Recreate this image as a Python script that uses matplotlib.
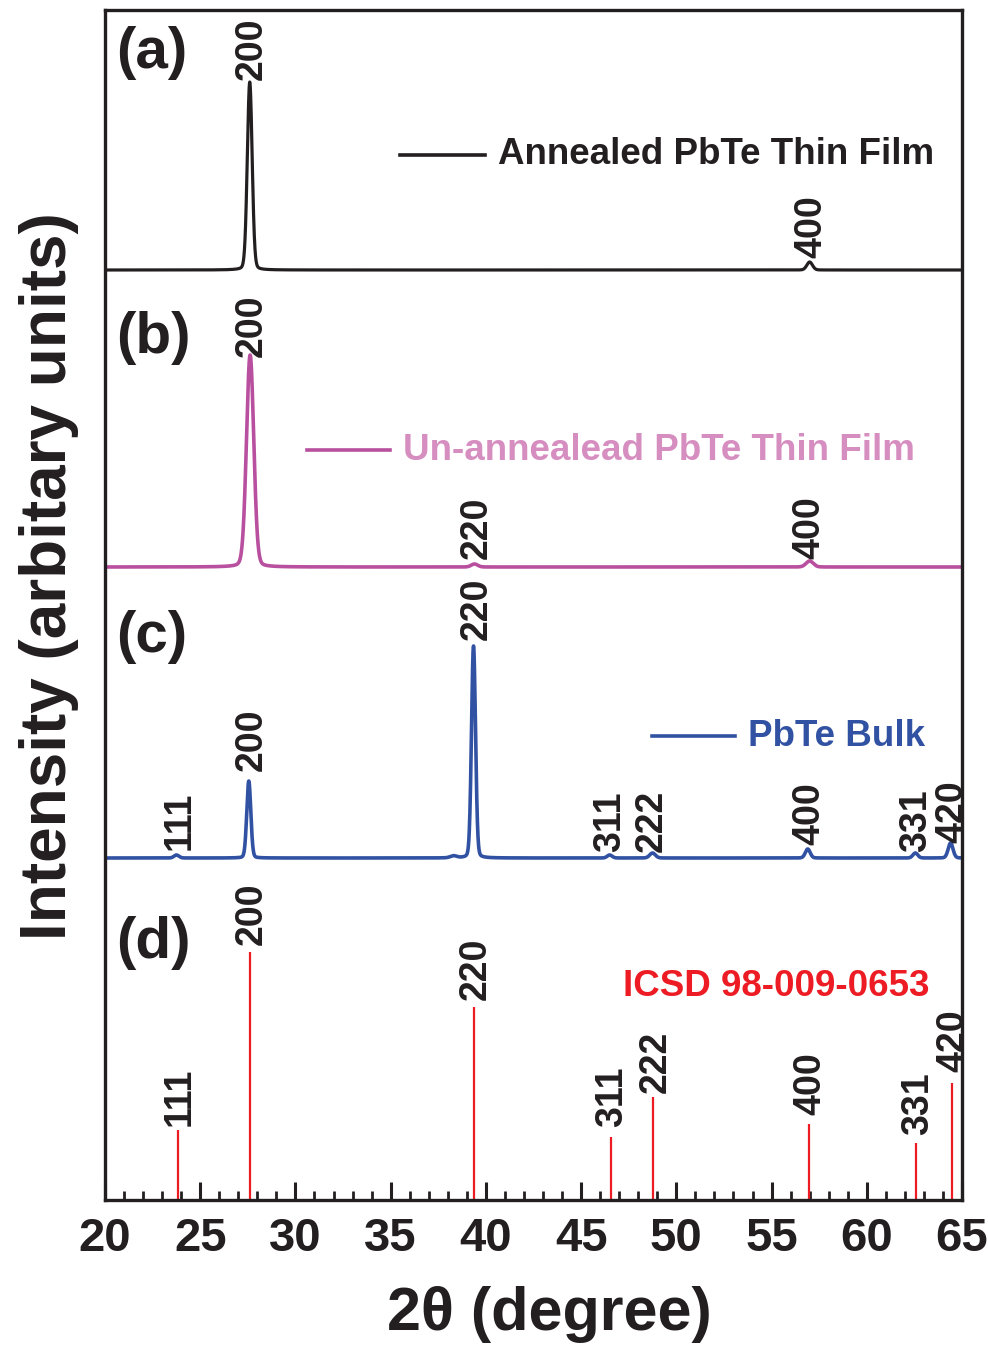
import numpy as np
import matplotlib
matplotlib.use("Agg")
import matplotlib.pyplot as plt
from matplotlib.ticker import MultipleLocator

plt.rcParams['font.family'] = ['Liberation Sans', 'DejaVu Sans']
plt.rcParams['font.weight'] = 'bold'

# ---- data ----
hkl = ["111", "200", "220", "311", "222", "400", "331", "420"]
ref_pos = [23.83, 27.60, 39.38, 46.55, 48.80, 56.95, 62.60, 64.45]
ref_int = [70, 248, 193, 63, 103, 76, 57, 117]

# annealed film (a)
a_pos = [27.60, 57.00]
a_int = [188, 8]
a_fwhm = [0.30, 0.35]
a_hkl = ["200", "400"]
a_lab_x = [27.7, 57.1]
a_lab_y = [190, 12]

# un-annealed film (b)
b_pos = [27.62, 39.40, 57.00]
b_int = [212, 3, 6]
b_fwhm = [0.45, 0.4, 0.45]
b_hkl = ["200", "220", "400"]
b_lab_x = [27.7, 39.5, 57.0]
b_lab_y = [210, 8, 8]

# bulk (c)
c_pos = [23.75, 27.55, 38.30, 39.35, 46.50, 48.75, 56.90, 62.55, 64.40]
c_int = [3, 77, 2, 212, 3, 5, 9, 5, 15]
c_fwhm = [0.3, 0.25, 0.4, 0.25, 0.3, 0.35, 0.3, 0.3, 0.3]
c_hkl = ["111", "200", "220", "311", "222", "400", "331", "420"]
c_lab_x = [23.9, 27.7, 39.5, 46.5, 48.7, 57.0, 62.6, 64.5]
c_lab_y = [8, 87, 218, 6, 6, 13, 6, 15]

d_lab_y = [4, 7, 7, 10, 4, 9, 8, 11]

offsets = {"a": 930, "b": 633, "c": 342, "d": 0}

col_a = "#231f20"
col_b = "#b8509f"
col_b_txt = "#d68dc0"
col_c = "#3152a3"
col_d = "#ed1c24"


def profile(x, pos, inten, fwhm):
    y = np.zeros_like(x)
    for p, h, w in zip(pos, inten, fwhm):
        g = np.exp(-4 * np.log(2) * (x - p) ** 2 / w ** 2)
        l = 1.0 / (1 + 4 * (x - p) ** 2 / w ** 2)
        y += h * (0.88 * g + 0.12 * l)
    return y


x = np.linspace(20, 65, 9001)

fig = plt.figure(figsize=(9.88, 13.45), dpi=100)
ax = fig.add_axes([105 / 988, 145 / 1345, 857 / 988, 1190 / 1345])

ax.plot(x, offsets["a"] + profile(x, a_pos, a_int, a_fwhm), color=col_a, lw=2.3)
ax.plot(x, offsets["b"] + profile(x, b_pos, b_int, b_fwhm), color=col_b, lw=2.6)
ax.plot(x, offsets["c"] + profile(x, c_pos, c_int, c_fwhm), color=col_c, lw=2.6)
ax.vlines(ref_pos, offsets["d"], [offsets["d"] + v for v in ref_int], color=col_d, lw=1.6)

lab_fs = 27
for lx, ly, t in zip(a_lab_x, a_lab_y, a_hkl):
    ax.text(lx, offsets["a"] + ly, t, rotation=90, ha='center', va='bottom',
            fontsize=lab_fs, fontweight='bold', color=col_a)
for lx, ly, t in zip(b_lab_x, b_lab_y, b_hkl):
    ax.text(lx, offsets["b"] + ly, t, rotation=90, ha='center', va='bottom',
            fontsize=lab_fs, fontweight='bold', color=col_a)
for lx, ly, t in zip(c_lab_x, c_lab_y, c_hkl):
    ax.text(lx, offsets["c"] + ly, t, rotation=90, ha='center', va='bottom',
            fontsize=lab_fs, fontweight='bold', color=col_a)
for p, v, dy, t in zip(ref_pos, ref_int, d_lab_y, hkl):
    ax.text(p + 0.1, offsets["d"] + v + dy, t, rotation=90, ha='center', va='bottom',
            fontsize=lab_fs, fontweight='bold', color=col_a)

# panel labels
for lab, yy in zip(["(a)", "(b)", "(c)", "(d)"], [1147, 862, 563, 257]):
    ax.text(20.6, yy, lab, fontsize=42, fontweight='bold', color=col_a,
            ha='left', va='center')

# legends (manual)
def legend_item(x0, x1, y, color, text, tcolor):
    ax.plot([x0, x1], [y, y], color=color, lw=2.6)
    ax.text(x1 + 0.68, y, text, color=tcolor, fontsize=26.5, fontweight='bold',
            ha='left', va='center')

legend_item(35.49, 39.96, 1045, col_a, "Annealed PbTe Thin Film", col_a)
legend_item(30.61, 34.97, 750, col_b, "Un-annealead PbTe Thin Film", col_b_txt)
legend_item(48.73, 53.09, 464, col_c, "PbTe Bulk", col_c)
ax.text(55.24, 213, "ICSD 98-009-0653", color=col_d, fontsize=26.5, fontweight='bold',
        ha='center', va='center')

ax.set_xlim(20, 65)
ax.set_ylim(0, 1190)
ax.set_yticks([])
ax.xaxis.set_major_locator(MultipleLocator(5))
ax.xaxis.set_minor_locator(MultipleLocator(1))
ax.tick_params(axis='x', which='major', direction='in', length=13, width=2.2,
               labelsize=34, pad=12, colors=col_a)
ax.tick_params(axis='x', which='minor', direction='in', length=6.5, width=2.0, colors=col_a)
for lbl in ax.get_xticklabels():
    lbl.set_fontweight('bold')
for s in ax.spines.values():
    s.set_linewidth(2.4)
    s.set_color(col_a)

ax.set_xlabel("2θ (degree)", fontsize=44, fontweight='bold', color=col_a)
ax.xaxis.set_label_coords(0.519, -0.072)
ax.set_ylabel("Intensity (arbitary units)", fontsize=46, fontweight='bold', color=col_a)
ax.yaxis.set_label_coords(-0.030, 0.524)

fig.savefig("out.png", dpi=100)
